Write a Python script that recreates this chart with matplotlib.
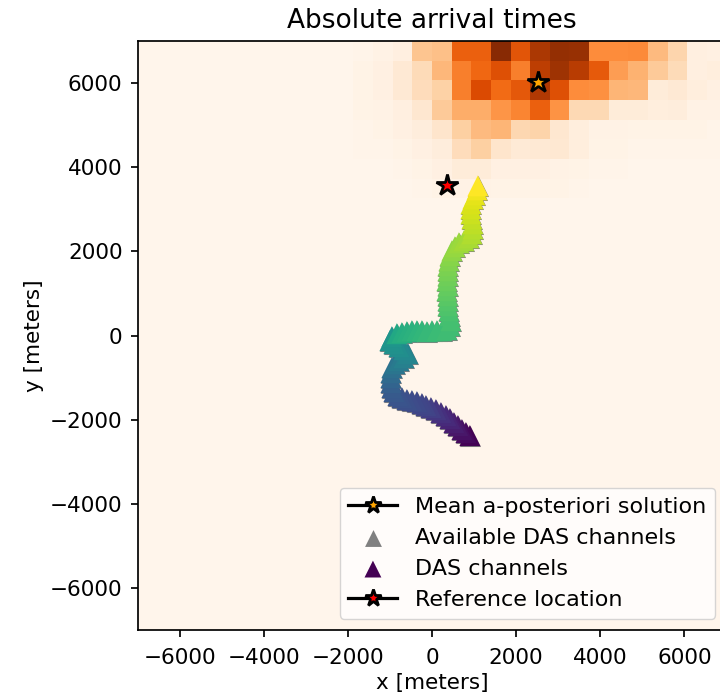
import numpy as np
import matplotlib
matplotlib.use("Agg")
import matplotlib.pyplot as plt

# grid of the a-posteriori location density (30 x 30 cells over +-7 km)
grid_n = 30
extent_m = 7000

# non-zero part of the density: rows 0..7 from the top, columns 11..29
pdf_rows_top = [
    [0.01, 0.03, 0.05, 0.29, 0.31, 0.66, 0.66, 0.97, 0.70, 0.86, 0.93, 0.92, 0.50, 0.50, 0.51, 0.33, 0.22, 0.05, 0.04],
    [0.02, 0.04, 0.10, 0.19, 0.34, 0.55, 0.63, 0.72, 0.55, 0.82, 0.90, 0.83, 0.68, 0.44, 0.36, 0.27, 0.19, 0.05, 0.06],
    [0.02, 0.04, 0.10, 0.18, 0.24, 0.55, 0.74, 0.62, 0.69, 0.85, 0.72, 0.50, 0.49, 0.35, 0.34, 0.08, 0.10, 0.06, 0.04],
    [0.02, 0.03, 0.05, 0.12, 0.27, 0.38, 0.38, 0.47, 0.53, 0.66, 0.48, 0.20, 0.20, 0.08, 0.08, 0.06, 0.07, 0.03, 0.03],
    [0.01, 0.02, 0.04, 0.07, 0.13, 0.25, 0.33, 0.35, 0.21, 0.23, 0.12, 0.06, 0.03, 0.03, 0.02, 0.02, 0.02, 0.02, 0.01],
    [0.01, 0.01, 0.02, 0.04, 0.07, 0.18, 0.25, 0.13, 0.09, 0.10, 0.11, 0.06, 0.02, 0.02, 0.01, 0.01, 0.01, 0.01, 0.01],
    [0.00, 0.00, 0.01, 0.02, 0.04, 0.08, 0.08, 0.04, 0.04, 0.04, 0.03, 0.02, 0.01, 0.01, 0.00, 0.00, 0.00, 0.00, 0.00],
    [0.00, 0.00, 0.00, 0.01, 0.02, 0.03, 0.03, 0.02, 0.02, 0.02, 0.02, 0.01, 0.00, 0.00, 0.00, 0.00, 0.00, 0.00, 0.00],
]
pdf_first_col = 11

# DAS channel positions along the cable [m], from the southern end northwards
das_x = [901, 806, 711, 616, 521, 426, 331, 212, 93, -26, -145, -240, -359, -478, -597, -716, -811,
         -906, -954, -977, -977, -977, -954,
         -882, -787, -668, -573, -668, -787, -906, -1001, -954,
         -835, -716, -597, -478, -359, -240, -121, -2, 117, 235, 354, 426, 449, 426,
         402, 378, 378, 378, 354, 378, 354, 378, 378, 378, 402, 426, 473, 545,
         640, 759, 877, 949, 973, 973, 949, 925, 925, 925, 973, 1020, 1068, 1091]
das_y = [-2377, -2306, -2235, -2140, -2069, -1974, -1902, -1831, -1760, -1712, -1665, -1617, -1570, -1546, -1522, -1475, -1427,
         -1332, -1237, -1119, -1000, -881, -762,
         -667, -596, -525, -430, -335, -264, -192, -121, -26,
         45, 69, 93, 116, 116, 116, 93, 116, 116, 116, 140, 235, 354, 473,
         591, 710, 829, 948, 1066, 1185, 1304, 1423, 1541, 1660, 1779, 1898, 2016, 2111,
         2206, 2254, 2325, 2420, 2539, 2658, 2776, 2895, 3014, 3133, 3251, 3346, 3465, 3560]
# normalised channel number of each position
das_chan = [0.00, 0.02, 0.04, 0.06, 0.08, 0.10, 0.12, 0.14, 0.16, 0.18, 0.20, 0.21, 0.22, 0.23, 0.24, 0.25, 0.26,
            0.27, 0.28, 0.30, 0.32, 0.34, 0.36,
            0.39, 0.41, 0.43, 0.45, 0.47, 0.49, 0.50, 0.51, 0.52,
            0.60, 0.62, 0.63, 0.64, 0.65, 0.66, 0.67, 0.67, 0.68, 0.68, 0.69, 0.69, 0.70, 0.70,
            0.71, 0.72, 0.73, 0.74, 0.75, 0.76, 0.77, 0.78, 0.79, 0.80, 0.81, 0.82, 0.83, 0.84,
            0.85, 0.86, 0.87, 0.88, 0.89, 0.90, 0.91, 0.92, 0.93, 0.94, 0.95, 0.96, 0.98, 1.00]

mean_loc = (2520, 6040)
ref_loc = (350, 3570)

# build full density grid
pdf = np.zeros((grid_n, grid_n))
for i, row in enumerate(pdf_rows_top):
    pdf[grid_n - 1 - i, pdf_first_col:pdf_first_col + len(row)] = row
edges = np.linspace(-extent_m, extent_m, grid_n + 1)

plt.rcParams.update({
    "font.size": 15.5,
    "axes.linewidth": 1.24,
    "lines.linewidth": 2.3,
    "xtick.major.size": 4.8, "xtick.major.width": 1.24, "xtick.major.pad": 8.0,
    "ytick.major.size": 5.4, "ytick.major.width": 1.24, "ytick.major.pad": 5.4,
})

fig = plt.figure(figsize=(7.2, 6.98), dpi=100)
ax = fig.add_axes([0.1911, 0.0974, 0.8178, 0.8436])

ax.pcolormesh(edges, edges, pdf, cmap="Oranges", vmin=0, vmax=1)

ax.plot(mean_loc[0], mean_loc[1], color="k", marker="*", markersize=16,
        markerfacecolor="orange", markeredgecolor="k", markeredgewidth=2.0,
        label="Mean a-posteriori solution", zorder=5)
ax.scatter(das_x, das_y, marker="^", s=230, color="grey", linewidths=0,
           label="Available DAS channels", zorder=3)
ax.scatter(das_x, das_y, marker="^", s=230, c=das_chan, cmap="viridis",
           vmin=0, vmax=1, linewidths=0, label="DAS channels", zorder=4)
ax.plot(ref_loc[0], ref_loc[1], color="k", marker="*", markersize=16,
        markerfacecolor="red", markeredgecolor="k", markeredgewidth=2.0,
        label="Reference location", zorder=5)

ax.set_xlim(-extent_m, extent_m)
ax.set_ylim(-extent_m, extent_m)
ax.set_xticks([-6000, -4000, -2000, 0, 2000, 4000, 6000])
ax.set_yticks([-6000, -4000, -2000, 0, 2000, 4000, 6000])
ax.set_xlabel("x [meters]")
ax.set_ylabel("y [meters]")
ax.set_title("Absolute arrival times", fontsize=19, pad=9.3)
ax.legend(loc="lower right", fontsize=16, handlelength=2.2, markerscale=0.8)

fig.savefig("out.png", dpi=100)
